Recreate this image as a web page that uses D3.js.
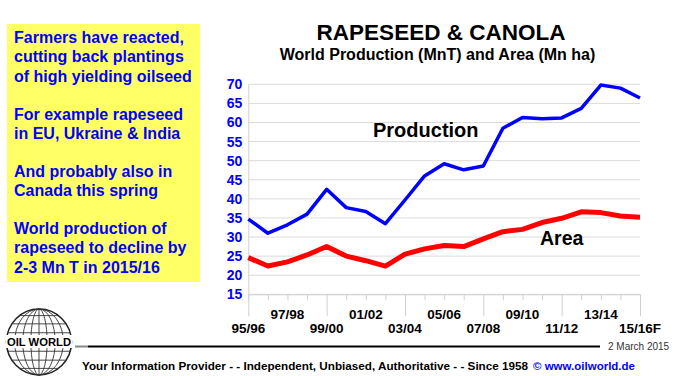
<!DOCTYPE html>
<html>
<head>
<meta charset="utf-8">
<script src="https://cdn.jsdelivr.net/npm/d3@7"></script>
<style>
  body { margin: 0; background: #fff; }
  svg { display: block; font-family: "Liberation Sans", Arial, sans-serif; }
</style>
</head>
<body>
<div id="chart"></div>
<script>
// crop years 95/96 .. 15/16F
const seasons = ['95/96', '96/97', '97/98', '98/99', '99/00', '00/01', '01/02', '02/03', '03/04', '04/05',
    '05/06', '06/07', '07/08', '08/09', '09/10', '10/11', '11/12', '12/13', '13/14', '14/15', '15/16F'];

// world production, Mn T
const production = [34.7, 31.0, 33.2, 36.0, 42.5, 37.7, 36.7, 33.5, 39.7, 46.0,
    49.2, 47.6, 48.6, 58.5, 61.3, 61.0, 61.2, 63.7, 69.8, 69.0, 66.4];

// harvested area, Mn ha
const area = [24.6, 22.4, 23.5, 25.3, 27.5, 25.0, 23.8, 22.4, 25.5, 26.9,
    27.8, 27.5, 29.5, 31.4, 32.0, 33.8, 34.9, 36.6, 36.4, 35.5, 35.2];

const yTicks = [15, 20, 25, 30, 35, 40, 45, 50, 55, 60, 65, 70];

const noteLines = [
    'Farmers have reacted,', 'cutting back plantings', 'of high yielding oilseed', '',
    'For example rapeseed', 'in EU, Ukraine & India', '',
    'And probably also in', 'Canada this spring', '',
    'World production of', 'rapeseed to decline by', '2-3 Mn T in 2015/16'];

const W = 673, H = 376;
const svg = d3.select('#chart').append('svg')
    .attr('width', W)
    .attr('height', H);

const x = d3.scalePoint().domain(seasons).range([248.3, 640]);
const y = d3.scaleLinear().domain([15, 70]).range([294.3, 84.3]);

// yellow note box
svg.append('rect')
    .attr('x', 7).attr('y', 24)
    .attr('width', 193).attr('height', 258)
    .attr('fill', '#ffff66');

svg.append('g')
    .selectAll('text')
    .data(noteLines)
    .join('text')
    .attr('x', 14)
    .attr('y', (d, i) => 43.3 + i * 19.1)
    .attr('font-size', 16)
    .attr('font-weight', 'bold')
    .attr('fill', '#0000ff')
    .text(d => d);

// titles
svg.append('text')
    .attr('x', 441).attr('y', 40)
    .attr('text-anchor', 'middle')
    .attr('font-size', 22.5).attr('font-weight', 'bold')
    .text('RAPESEED & CANOLA');
svg.append('text')
    .attr('x', 437.5).attr('y', 60)
    .attr('text-anchor', 'middle')
    .attr('font-size', 16).attr('font-weight', 'bold')
    .text('World Production (MnT) and Area (Mn ha)');

// grid lines
svg.append('g')
    .selectAll('line')
    .data(yTicks)
    .join('line')
    .attr('x1', x.range()[0]).attr('x2', x.range()[1])
    .attr('y1', d => y(d)).attr('y2', d => y(d))
    .attr('stroke', '#dcdcdc')
    .attr('stroke-width', 1);

// y axis
const yAxis = svg.append('g')
    .attr('transform', 'translate(' + x.range()[0] + ',0)')
    .call(d3.axisLeft(y).tickValues(yTicks).tickSize(0).tickPadding(6));
yAxis.select('.domain').attr('stroke', '#d0d0d0');
yAxis.selectAll('text')
    .attr('font-family', '"Liberation Sans", Arial, sans-serif')
    .attr('font-size', 14)
    .attr('font-weight', 'bold')
    .attr('fill', '#0000ff');

// x axis: short ticks, long every 4th, labels alternate rows
const xAxis = svg.append('g')
    .attr('transform', 'translate(0,' + y(15) + ')')
    .call(d3.axisBottom(x).tickSize(6).tickFormat(''));
xAxis.select('.domain').attr('stroke', '#d0d0d0');
xAxis.selectAll('.tick line')
    .attr('stroke', '#d0d0d0')
    .attr('y2', (d, i) => i % 4 === 0 ? 22 : 6);

svg.append('g')
    .selectAll('text')
    .data(seasons.filter((d, i) => i % 2 === 0))
    .join('text')
    .attr('x', d => x(d))
    .attr('y', (d, i) => i % 2 === 0 ? 333 : 319)
    .attr('text-anchor', 'middle')
    .attr('font-size', 13.5)
    .attr('font-weight', 'bold')
    .text(d => d);

// series lines
const line = d3.line()
    .x((d, i) => x(seasons[i]))
    .y(d => y(d));

svg.append('path')
    .datum(area)
    .attr('d', line)
    .attr('fill', 'none')
    .attr('stroke', '#ff0000')
    .attr('stroke-width', 5)
    .attr('stroke-linejoin', 'round');

svg.append('path')
    .datum(production)
    .attr('d', line)
    .attr('fill', 'none')
    .attr('stroke', '#0000ff')
    .attr('stroke-width', 3.5)
    .attr('stroke-linejoin', 'round');

svg.append('text')
    .attr('x', 373).attr('y', 136.7)
    .attr('font-size', 20).attr('font-weight', 'bold')
    .text('Production');
svg.append('text')
    .attr('x', 540).attr('y', 245)
    .attr('font-size', 19.5).attr('font-weight', 'bold')
    .text('Area');

// footer
svg.append('line')
    .attr('x1', 75).attr('x2', 88).attr('y1', 346.5).attr('y2', 346.5)
    .attr('stroke', '#888').attr('stroke-width', 2);
svg.append('line')
    .attr('x1', 88).attr('x2', 600).attr('y1', 346.5).attr('y2', 346.5)
    .attr('stroke', '#000').attr('stroke-width', 2);
svg.append('text')
    .attr('x', 608).attr('y', 350)
    .attr('font-size', 10)
    .attr('fill', '#333')
    .text('2 March 2015');
svg.append('text')
    .attr('x', 82).attr('y', 370)
    .attr('font-size', 11.5).attr('font-weight', 'bold')
    .attr('textLength', 446).attr('lengthAdjust', 'spacingAndGlyphs')
    .text('Your Information Provider - - Independent, Unbiased, Authoritative - - Since 1958');
svg.append('text')
    .attr('x', 533).attr('y', 370)
    .attr('font-size', 11.5).attr('font-weight', 'bold')
    .attr('fill', '#0000ff')
    .text('\u00a9 www.oilworld.de');

// OIL WORLD globe logo
const logo = svg.append('g').attr('transform', 'translate(39,342)');
const rx = 32.5, ry = 33;
logo.append('ellipse')
    .attr('rx', rx).attr('ry', ry)
    .attr('fill', '#fff').attr('stroke', '#222').attr('stroke-width', 1.5);
[0.25, 0.5, 0.75].forEach(f => {
    logo.append('ellipse')
        .attr('rx', rx * f).attr('ry', ry)
        .attr('fill', 'none').attr('stroke', '#333').attr('stroke-width', 0.9);
});
logo.append('line').attr('y1', -ry).attr('y2', ry).attr('stroke', '#333').attr('stroke-width', 0.9);
[-0.8, -0.55, -0.28, 0.28, 0.55, 0.8].forEach(f => {
    const yy = ry * f;
    const hw = rx * Math.sqrt(1 - f * f);
    logo.append('line')
        .attr('x1', -hw).attr('x2', hw).attr('y1', yy).attr('y2', yy)
        .attr('stroke', '#333').attr('stroke-width', 0.9);
});
logo.append('rect')
    .attr('x', -33).attr('y', -7).attr('width', 66).attr('height', 13)
    .attr('fill', '#fff');
logo.append('text')
    .attr('x', 0).attr('y', 4)
    .attr('text-anchor', 'middle')
    .attr('font-size', 11).attr('font-weight', 'bold')
    .attr('textLength', 64).attr('lengthAdjust', 'spacingAndGlyphs')
    .text('OIL WORLD');
</script>
</body>
</html>
